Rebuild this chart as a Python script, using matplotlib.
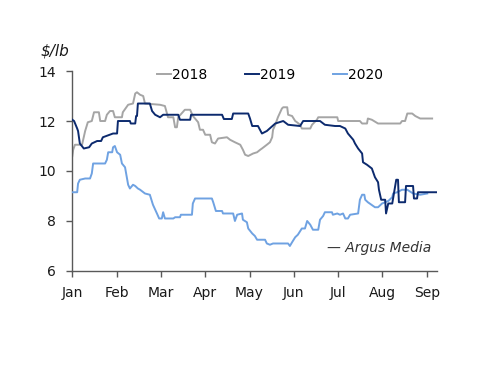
import numpy as np
import matplotlib
matplotlib.use('Agg')
import matplotlib.pyplot as plt

# Місяці на осі X (позиції в одиницях "місяць від 1 січня")
months = ['Jan', 'Feb', 'Mar', 'Apr', 'May', 'Jun', 'Jul', 'Aug', 'Sep']
yticks = [6, 8, 10, 12, 14]

# 2018
x2018 = [0.0, 0.02, 0.06, 0.22, 0.29, 0.35, 0.44, 0.49, 0.60, 0.63, 0.74, 0.78, 0.85, 0.92,
         0.96, 1.12, 1.14, 1.26, 1.37, 1.42, 1.46, 1.53, 1.60, 1.64, 1.98, 2.09, 2.16, 2.28,
         2.32, 2.36, 2.39, 2.54, 2.66, 2.72, 2.77, 2.84, 2.88, 2.95, 3.00, 3.11, 3.15, 3.22,
         3.29, 3.49, 3.56, 3.67, 3.79, 3.85, 3.90, 3.97, 4.08, 4.17, 4.24, 4.28, 4.39, 4.46,
         4.51, 4.53, 4.58, 4.64, 4.73, 4.76, 4.85, 4.87, 4.96, 5.03, 5.07, 5.14, 5.18, 5.37,
         5.41, 5.52, 5.55, 5.98, 6.00, 6.49, 6.54, 6.65, 6.67, 6.76, 6.90, 7.40, 7.44, 7.51,
         7.56, 7.67, 7.74, 7.85, 8.12]
y2018 = [10.6, 10.85, 11.05, 11.05, 11.6, 11.95, 12.0, 12.35, 12.35, 12.0, 12.0, 12.25, 12.4, 12.4,
         12.15, 12.15, 12.35, 12.65, 12.7, 13.1, 13.15, 13.05, 13.0, 12.7, 12.65, 12.6, 12.15, 12.15,
         11.75, 11.75, 12.15, 12.45, 12.45, 12.2, 12.1, 11.95, 11.65, 11.65, 11.45, 11.45, 11.15, 11.1,
         11.3, 11.35, 11.25, 11.15, 11.05, 10.85, 10.65, 10.6, 10.7, 10.75, 10.85, 10.9, 11.05, 11.15,
         11.35, 11.65, 11.85, 12.15, 12.5, 12.55, 12.55, 12.25, 12.2, 12.0, 11.95, 11.85, 11.7, 11.7,
         11.85, 12.05, 12.15, 12.15, 12.0, 12.0, 11.9, 11.9, 12.1, 12.05, 11.9, 11.9, 12.0, 12.0,
         12.3, 12.3, 12.2, 12.1, 12.1]

# 2019
x2019 = [0.0, 0.04, 0.11, 0.13, 0.17, 0.26, 0.38, 0.44, 0.56, 0.65, 0.69, 0.92, 1.01, 1.03,
         1.30, 1.32, 1.42, 1.44, 1.46, 1.48, 1.75, 1.80, 1.87, 1.98, 2.05, 2.39, 2.43, 2.66,
         2.68, 3.38, 3.42, 3.60, 3.63, 3.97, 4.01, 4.06, 4.19, 4.28, 4.39, 4.58, 4.76, 4.87,
         5.14, 5.21, 5.59, 5.70, 5.93, 6.04, 6.16, 6.22, 6.34, 6.38, 6.45, 6.54, 6.56, 6.65,
         6.76, 6.79, 6.83, 6.90, 6.92, 6.97, 7.06, 7.08, 7.13, 7.22, 7.31, 7.35, 7.37, 7.51,
         7.53, 7.69, 7.71, 7.78, 7.80, 8.21]
y2019 = [12.05, 12.0, 11.7, 11.6, 11.1, 10.9, 10.95, 11.1, 11.2, 11.2, 11.35, 11.5, 11.5, 12.0,
         12.0, 11.9, 11.9, 12.2, 12.2, 12.7, 12.7, 12.4, 12.25, 12.15, 12.25, 12.25, 12.05, 12.05,
         12.25, 12.25, 12.08, 12.08, 12.3, 12.3, 12.1, 11.8, 11.8, 11.5, 11.6, 11.9, 12.0, 11.85,
         11.8, 12.0, 12.0, 11.85, 11.8, 11.8, 11.7, 11.5, 11.25, 11.1, 10.9, 10.7, 10.35, 10.25,
         10.1, 9.95, 9.75, 9.55, 9.25, 8.85, 8.85, 8.3, 8.7, 8.7, 9.65, 9.65, 8.75, 8.75,
         9.4, 9.4, 8.9, 8.9, 9.15, 9.15]

# 2020
x2020 = [0.0, 0.11, 0.13, 0.17, 0.29, 0.40, 0.44, 0.47, 0.74, 0.78, 0.81, 0.90, 0.92, 0.96,
         1.01, 1.08, 1.12, 1.19, 1.23, 1.26, 1.30, 1.37, 1.42, 1.48, 1.53, 1.64, 1.75, 1.82,
         1.91, 1.96, 2.02, 2.05, 2.09, 2.28, 2.32, 2.43, 2.45, 2.70, 2.72, 2.77, 3.15, 3.18,
         3.24, 3.38, 3.40, 3.63, 3.67, 3.72, 3.83, 3.85, 3.94, 3.97, 4.06, 4.12, 4.17, 4.35,
         4.39, 4.46, 4.53, 4.87, 4.91, 4.96, 5.03, 5.09, 5.18, 5.25, 5.30, 5.37, 5.43, 5.55,
         5.59, 5.66, 5.70, 5.86, 5.88, 5.98, 6.04, 6.11, 6.16, 6.22, 6.27, 6.45, 6.49, 6.54,
         6.59, 6.61, 6.67, 6.83, 6.90, 6.99, 7.13, 7.22, 7.24, 7.33, 7.44, 7.56, 7.69, 7.85,
         8.01]
y2020 = [9.15, 9.15, 9.5, 9.65, 9.7, 9.7, 9.9, 10.3, 10.3, 10.45, 10.75, 10.75, 10.95, 11.0,
         10.75, 10.65, 10.3, 10.15, 9.75, 9.45, 9.3, 9.45, 9.4, 9.3, 9.25, 9.1, 9.05, 8.65,
         8.3, 8.1, 8.1, 8.35, 8.1, 8.1, 8.15, 8.15, 8.25, 8.25, 8.7, 8.9, 8.9, 8.75,
         8.4, 8.4, 8.3, 8.3, 8.0, 8.25, 8.3, 8.05, 7.95, 7.7, 7.5, 7.4, 7.25, 7.25,
         7.1, 7.05, 7.1, 7.1, 7.0, 7.15, 7.35, 7.45, 7.7, 7.7, 8.0, 7.85, 7.65, 7.65,
         8.05, 8.2, 8.35, 8.35, 8.25, 8.3, 8.25, 8.3, 8.1, 8.1, 8.25, 8.3, 8.85, 9.05,
         9.05, 8.85, 8.75, 8.55, 8.55, 8.7, 8.8, 8.95, 9.1, 9.15, 9.25, 9.25, 9.1, 9.05,
         9.1]

fig = plt.figure(figsize=(5, 3.86), dpi=100)
ax = fig.add_axes([0.1446, 0.298, 0.7294, 0.518])

l18, = ax.plot(x2018, y2018, color='#a5a5a5', linewidth=1.4, label='2018', zorder=2)
l19, = ax.plot(x2019, y2019, color='#0c2a6e', linewidth=1.4, label='2019', zorder=4)
l20, = ax.plot(x2020, y2020, color='#6fa2e2', linewidth=1.4, label='2020', zorder=3)

ax.set_xlim(0, 8.23)
ax.set_ylim(6, 14)
ax.set_xticks(np.arange(len(months)))
ax.set_xticklabels(months)
ax.set_yticks(yticks)

for s in ['top', 'right']:
    ax.spines[s].set_visible(False)
for s in ['left', 'bottom']:
    ax.spines[s].set_color('#595959')
    ax.spines[s].set_linewidth(1.0)

ax.tick_params(axis='x', direction='out', length=4, width=1, color='#595959',
               labelsize=10, pad=7, labelcolor='#1a1a1a')
ax.tick_params(axis='y', direction='out', length=4, width=1, color='#595959',
               labelsize=10, pad=8, labelcolor='#1a1a1a')

fig.legend(handles=[l18, l19, l20], loc='center', bbox_to_anchor=(0.54, 0.806),
           ncol=3, frameon=False, fontsize=10, handlelength=1.0, handletextpad=0.1,
           columnspacing=2.7)

fig.text(0.11, 0.868, '$/lb', fontsize=11, style='italic', ha='center', va='center',
         color='#1a1a1a')
fig.text(0.862, 0.357, '— Argus Media', fontsize=10, style='italic', ha='right', va='center',
         color='#333333')

fig.savefig('out.png', dpi=100)
